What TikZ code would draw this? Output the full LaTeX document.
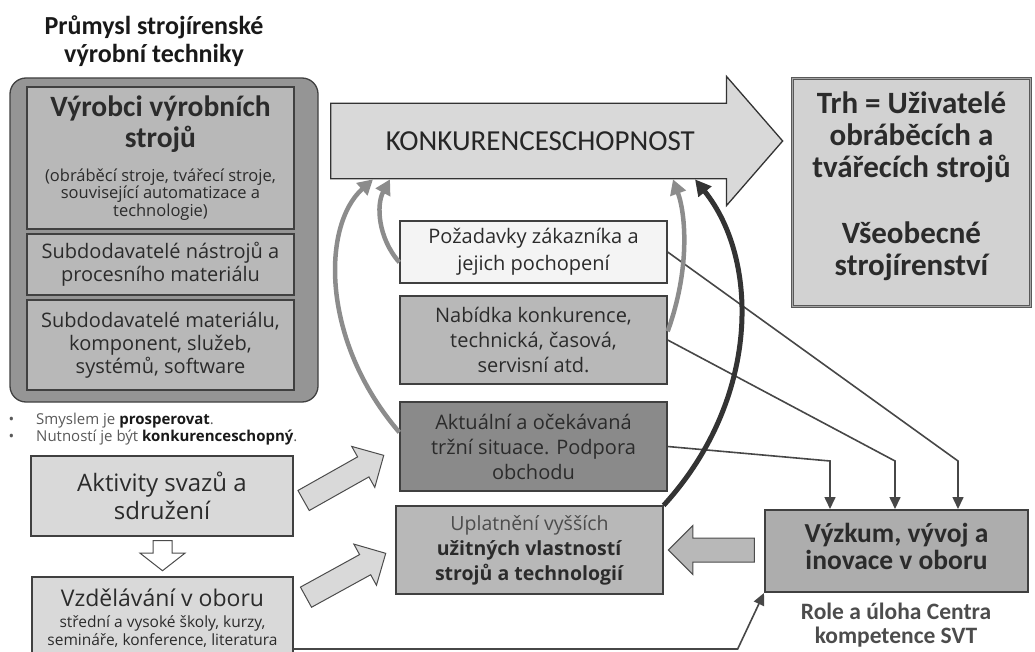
\documentclass[tikz,border=0pt]{standalone}
\usepackage{fontspec}
\setmainfont{Carlito}
\newfontfamily\bodyfont{Open Sans}
\usetikzlibrary{shapes.arrows,arrows.meta}

\definecolor{ramec}{HTML}{959595}
\definecolor{stredni}{HTML}{B8B8B8}
\definecolor{svetla}{HTML}{D9D9D9}
\definecolor{bila}{HTML}{F4F4F4}
\definecolor{tmava}{HTML}{8A8A8A}
\definecolor{vyzk}{HTML}{ADADAD}
\definecolor{trhfill}{HTML}{D2D2D2}
\definecolor{sedasip}{HTML}{8C8C8C}
\definecolor{cara}{HTML}{474747}
\definecolor{textc}{HTML}{2B2B2B}

\newcommand{\fs}[2]{\fontsize{#1}{#2}\selectfont}
\newcommand{\malyfont}{\bodyfont\mdseries\fs{16.5}{18}}
\newcommand{\skolyfont}{\fs{15.5}{18}}

\begin{document}
\begin{tikzpicture}[x=1pt,y=-1pt,
	box/.style={draw=black!75,line width=1.3pt,inner sep=0pt,align=center,text=textc},
	blockarr/.style={single arrow,draw=black!70,line width=1pt,fill=svetla,inner xsep=0pt,anchor=tip},
	feed/.style={line width=4.5pt,draw=sedasip,-{Triangle[length=15pt,width=16pt]}},
	strong/.style={line width=5pt,draw=black!80,-{Triangle[length=16pt,width=16pt]}},
	link/.style={line width=1.6pt,draw=cara,-{Triangle[length=12pt,width=11pt]}}]

	\useasboundingbox (0,0) rectangle (1035,652);

	\node[align=center,text=black!90,font=\fs{26}{28}\bfseries] (title) at (154,41) {Průmysl strojírenské\\výrobní techniky};

	\node[box,rounded corners=16pt,fill=ramec,minimum width=308pt,minimum height=324pt] (svt) at (164,240) {};
	\node[box,fill=stredni,minimum width=267pt,minimum height=142pt,font=\fs{29.5}{31}\bfseries] (vyrobci) at (160.5,158)
		{Výrobci výrobních\\strojů\\[3pt]\malyfont(obráběcí stroje, tvářecí stroje,\\[-13.5pt]\malyfont související automatizace a\\[-13.5pt]\malyfont technologie)};
	\node[box,fill=stredni,minimum width=267pt,minimum height=61pt,font=\bodyfont\fs{20}{23}] (nastroje) at (160.5,264.5)
		{Subdodavatelé nástrojů a\\procesního materiálu};
	\node[box,fill=stredni,minimum width=267pt,minimum height=90pt,font=\bodyfont\fs{20}{23}] (material) at (160.5,345)
		{Subdodavatelé materiálu,\\komponent, služeb,\\systémů, software};

	\node[anchor=north west,align=left,inner sep=0pt,text=black!65,font=\bodyfont\fs{15}{17}] (smysl) at (6,413)
		{\makebox[30pt][l]{\,•}Smyslem je \textcolor{black!90}{\textbf{prosperovat}}.\\
		\makebox[30pt][l]{\,•}Nutností je být \textcolor{black!90}{\textbf{konkurenceschopný}}.};

	\node[box,fill=svetla,minimum width=262pt,minimum height=80pt,font=\bodyfont\fs{24}{28}] (aktivity) at (162,496)
		{Aktivity svazů a\\sdružení};
	\node[box,fill=svetla,minimum width=261pt,minimum height=82pt,font=\bodyfont\fs{23}{25}] (vzdel) at (162.5,618)
		{Vzdělávání v oboru\\[-4pt]\skolyfont střední a vysoké školy, kurzy,\\[-7pt]\skolyfont semináře, konference, literatura};
	\node[blockarr,fill=white,rotate=-90,minimum height=30pt,inner ysep=9pt,single arrow head extend=13pt,single arrow tip angle=104] (dolu) at ([yshift=5pt]vzdel.north) {};

	\node[single arrow,draw=black!80,fill=svetla,line width=1.3pt,anchor=tail,minimum height=452pt,
		inner ysep=27.5pt,single arrow head extend=27pt,single arrow tip angle=98,text=black!85,font=\fs{29}{29}] (konk) at (330,141)
		{KONKURENCESCHOPNOST};

	\node[box,fill=trhfill,draw=black!65,line width=0.8pt,double=gray!70,double distance=1.6pt,minimum width=238pt,minimum height=228pt,font=\fs{31}{32}\bfseries] (trh) at (911.5,192.5)
		{Trh = Uživatelé\\obráběcích a\\tvářecích strojů\\[34pt]Všeobecné\\strojírenství\\[-14pt]\mbox{}};

	\node[box,fill=bila,minimum width=267pt,minimum height=62pt,font=\bodyfont\fs{20}{27}] (poz) at (533.5,252)
		{Požadavky zákazníka a\\jejich pochopení};
	\node[box,fill=stredni,minimum width=267pt,minimum height=88pt,font=\bodyfont\fs{20}{25}] (nabidka) at (533.5,340)
		{Nabídka konkurence,\\technická, časová,\\servisní atd.};
	\node[box,fill=tmava,minimum width=267pt,minimum height=89pt,font=\bodyfont\fs{20}{25}] (aktualni) at (533.5,446.5)
		{Aktuální a očekávaná\\tržní situace. Podpora\\obchodu};
	\node[box,fill=stredni,minimum width=267pt,minimum height=88pt,font=\bodyfont\fs{19.5}{25}] (uplatneni) at (529.5,550)
		{\textcolor{black!70}{Uplatnění vyšších}\\\textbf{užitných vlastností}\\\textbf{strojů a technologií}};

	\node[box,fill=vyzk,line width=2pt,minimum width=263pt,minimum height=82pt,font=\fs{27.5}{27}\bfseries] (vyzkum) at (896.5,551)
		{Výzkum, vývoj a\\inovace v oboru\\[-17pt]\mbox{}};
	\node[align=center,text=black!70,font=\fs{23.5}{24}\bfseries] (role) at (896,625) {Role a úloha Centra\\kompetence SVT};

	\node[blockarr,rotate=29.4,minimum height=92pt,inner ysep=11pt,single arrow head extend=12pt] (sip1) at ([xshift=-15pt,yshift=-8.5pt]aktualni.west) {};
	\node[blockarr,rotate=28.8,minimum height=91pt,inner ysep=11pt,single arrow head extend=12pt] (sip2) at ([xshift=-9pt,yshift=-3pt]uplatneni.west) {};
	\node[blockarr,fill=stredni,rotate=180,minimum height=86pt,inner ysep=11.5pt,single arrow head extend=12.5pt] (sip3) at ([xshift=4pt]uplatneni.east) {};

	\draw[link] (poz.east) -- ([xshift=61.5pt,yshift=48pt]vyzkum.north) -- ([xshift=61.5pt]vyzkum.north);
	\draw[link] (nabidka.east) -- ([xshift=-1.5pt,yshift=48pt]vyzkum.north) -- ([xshift=-1.5pt]vyzkum.north);
	\draw[link] (aktualni.east) -- ([xshift=-66.5pt,yshift=48pt]vyzkum.north) -- ([xshift=-66.5pt]vyzkum.north);
	\draw[link] ([yshift=-31pt]vzdel.east) -- ++(444,0) -- (vyzkum.south west);

	\draw[feed] ([yshift=-31pt]aktualni.north west) .. controls (320,340) and (322,225) .. (373,0 |- konk.south);
	\draw[feed] ([yshift=-42pt]poz.north west) .. controls (378,238) and (376,205) .. (390,0 |- konk.south);
	\draw[feed] ([yshift=-36pt]nabidka.north east) .. controls (690,270) and (686,215) .. (673,0 |- konk.south);
	\draw[strong] (uplatneni.north east) .. controls (760,400) and (760,260) .. (695,0 |- konk.south);

\end{tikzpicture}
\end{document}
